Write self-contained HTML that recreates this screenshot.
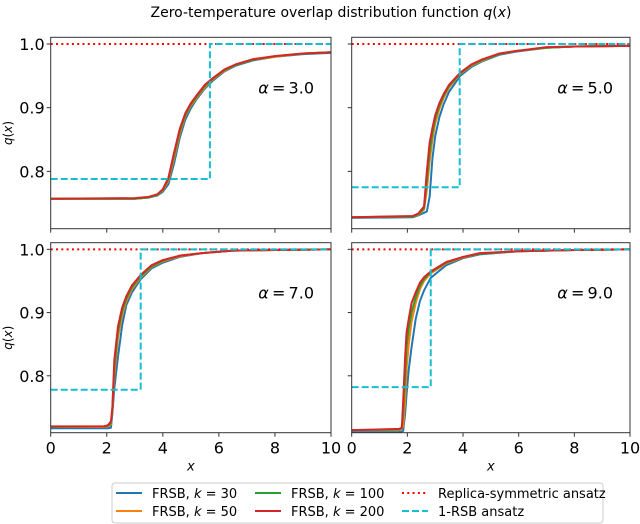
<!DOCTYPE html>
<html><head><meta charset="utf-8"><style>
html,body{margin:0;padding:0;background:#fff;}
svg{display:block;font-family:"DejaVu Sans","Liberation Sans",sans-serif;}
</style></head><body>
<svg id="fig" width="640" height="524" viewBox="0 0 640 524" xmlns="http://www.w3.org/2000/svg">
<text x="331" y="17" font-size="14" text-anchor="middle">Zero-temperature overlap distribution function <tspan font-style="italic">q</tspan>(<tspan font-style="italic">x</tspan>)</text>
<g id="panels"></g>
<g>
<rect x="112" y="483" width="491" height="40" rx="3" fill="#fff" stroke="#ccc"/>
<g><line x1="116" y1="493" x2="142" y2="493" stroke="#1f77b4" stroke-width="2"/><text x="152" y="498" font-size="13">FRSB, <tspan font-style="italic">k</tspan> = 30</text></g>
<g><line x1="116" y1="511" x2="142" y2="511" stroke="#ff7f0e" stroke-width="2"/><text x="152" y="516" font-size="13">FRSB, <tspan font-style="italic">k</tspan> = 50</text></g>
<g><line x1="255" y1="493" x2="281" y2="493" stroke="#2ca02c" stroke-width="2"/><text x="291" y="498" font-size="13">FRSB, <tspan font-style="italic">k</tspan> = 100</text></g>
<g><line x1="255" y1="511" x2="281" y2="511" stroke="#d62728" stroke-width="2"/><text x="291" y="516" font-size="13">FRSB, <tspan font-style="italic">k</tspan> = 200</text></g>
<g><line x1="402" y1="493" x2="428" y2="493" stroke="#ff0000" stroke-width="2" stroke-dasharray="2,3.3"/><text x="438" y="498" font-size="13">Replica-symmetric ansatz</text></g>
<g><line x1="402" y1="511" x2="428" y2="511" stroke="#17becf" stroke-width="2" stroke-dasharray="7,3"/><text x="438" y="516" font-size="13">1-RSB ansatz</text></g>
</g>
</svg>
<script>
// ---- data ----
const alphas = [3.0, 5.0, 7.0, 9.0];
const xTicks = [0, 2, 4, 6, 8, 10];
const yTicks = [0.8, 0.9, 1.0];
const yTickLabels = ["0.8", "0.9", "1.0"];
const rsbJump = [5.68, 3.88, 3.21, 2.84];
const rsbLow = [0.788, 0.775, 0.778, 0.782];
const rsLevel = [1.0, 1.0, 1.0, 1.0];
// alpha = 3
const x_a3 = [0, 3.0, 3.5, 3.8, 4.0, 4.2, 4.4, 4.6, 4.8, 5.0, 5.2, 5.5, 5.8, 6.2, 6.6, 7.2, 8, 9, 10];
const q_a3_k30 = [0.757, 0.757, 0.759, 0.762, 0.768, 0.780, 0.812, 0.852, 0.881, 0.899, 0.913, 0.930, 0.943, 0.957, 0.966, 0.974, 0.980, 0.984, 0.986];
const q_a3_k50 = [0.757, 0.757, 0.759, 0.763, 0.770, 0.785, 0.820, 0.858, 0.886, 0.903, 0.915, 0.932, 0.945, 0.958, 0.967, 0.975, 0.980, 0.985, 0.987];
const q_a3_k100 = [0.757, 0.757, 0.759, 0.763, 0.771, 0.788, 0.825, 0.862, 0.888, 0.905, 0.917, 0.934, 0.946, 0.959, 0.967, 0.975, 0.981, 0.985, 0.987];
const q_a3_k200 = [0.757, 0.758, 0.760, 0.764, 0.772, 0.790, 0.829, 0.866, 0.891, 0.907, 0.919, 0.936, 0.947, 0.960, 0.968, 0.976, 0.981, 0.985, 0.987];
// alpha = 5
const x_a5 = [0, 2.2, 2.4, 2.6, 2.7, 2.8, 2.9, 3.0, 3.15, 3.3, 3.5, 3.9, 4.3, 4.7, 5.3, 5.9, 7, 8, 10];
const q_a5_k30 = [0.727, 0.728, 0.731, 0.735, 0.737, 0.760, 0.820, 0.855, 0.885, 0.905, 0.925, 0.950, 0.964, 0.973, 0.983, 0.988, 0.994, 0.996, 0.997];
const q_a5_k50 = [0.728, 0.729, 0.732, 0.740, 0.770, 0.815, 0.850, 0.875, 0.898, 0.915, 0.932, 0.953, 0.966, 0.974, 0.984, 0.989, 0.994, 0.996, 0.997];
const q_a5_k100 = [0.728, 0.729, 0.733, 0.742, 0.785, 0.830, 0.860, 0.882, 0.903, 0.918, 0.934, 0.954, 0.967, 0.975, 0.984, 0.989, 0.994, 0.996, 0.997];
const q_a5_k200 = [0.728, 0.730, 0.734, 0.745, 0.800, 0.845, 0.868, 0.888, 0.907, 0.921, 0.936, 0.955, 0.968, 0.976, 0.985, 0.989, 0.995, 0.996, 0.997];
// alpha = 7
const x_a7 = [0, 1.9, 2.05, 2.15, 2.2, 2.27, 2.4, 2.55, 2.7, 2.9, 3.2, 3.6, 4.0, 4.6, 5.4, 6.5, 8, 10];
const q_a7_k30 = [0.717, 0.717, 0.717, 0.718, 0.740, 0.780, 0.830, 0.880, 0.912, 0.932, 0.952, 0.970, 0.979, 0.988, 0.994, 0.998, 0.999, 1.0];
const q_a7_k50 = [0.719, 0.719, 0.720, 0.723, 0.745, 0.800, 0.860, 0.896, 0.918, 0.937, 0.955, 0.972, 0.981, 0.989, 0.994, 0.998, 0.999, 1.0];
const q_a7_k100 = [0.719, 0.720, 0.721, 0.725, 0.748, 0.812, 0.870, 0.902, 0.922, 0.940, 0.957, 0.973, 0.982, 0.990, 0.994, 0.998, 0.999, 1.0];
const q_a7_k200 = [0.720, 0.720, 0.722, 0.728, 0.750, 0.825, 0.878, 0.908, 0.926, 0.943, 0.959, 0.975, 0.983, 0.990, 0.994, 0.998, 0.999, 1.0];
// alpha = 9
const x_a9 = [0, 1.7, 1.8, 1.85, 1.92, 1.97, 2.05, 2.15, 2.3, 2.45, 2.6, 2.84, 3.4, 4.0, 4.6, 6, 8, 10];
const q_a9_k30 = [0.711, 0.711, 0.712, 0.713, 0.740, 0.770, 0.810, 0.845, 0.890, 0.918, 0.935, 0.955, 0.975, 0.986, 0.992, 0.997, 0.999, 1.0];
const q_a9_k50 = [0.714, 0.714, 0.716, 0.720, 0.760, 0.810, 0.850, 0.885, 0.915, 0.937, 0.950, 0.962, 0.978, 0.987, 0.993, 0.997, 0.999, 1.0];
const q_a9_k100 = [0.714, 0.715, 0.717, 0.740, 0.800, 0.845, 0.875, 0.900, 0.924, 0.942, 0.953, 0.964, 0.979, 0.988, 0.993, 0.997, 0.999, 1.0];
const q_a9_k200 = [0.714, 0.716, 0.718, 0.760, 0.830, 0.868, 0.890, 0.915, 0.932, 0.947, 0.956, 0.965, 0.980, 0.988, 0.994, 0.997, 0.999, 1.0];

const xsets = [x_a3, x_a5, x_a7, x_a9];
const qsets = [
  [q_a3_k30, q_a3_k50, q_a3_k100, q_a3_k200],
  [q_a5_k30, q_a5_k50, q_a5_k100, q_a5_k200],
  [q_a7_k30, q_a7_k50, q_a7_k100, q_a7_k200],
  [q_a9_k30, q_a9_k50, q_a9_k100, q_a9_k200]
];
const kNames = ["k30", "k50", "k100", "k200"];
const kColors = ["#1f77b4", "#ff7f0e", "#2ca02c", "#d62728"];

// ---- layout ----
const NS = "http://www.w3.org/2000/svg";
const boxes = [
  {l: 50.7, t: 37.3, w: 280.3, h: 191.4},
  {l: 351.7, t: 37.3, w: 278.3, h: 191.4},
  {l: 50.7, t: 242.7, w: 280.3, h: 190.0},
  {l: 351.7, t: 242.7, w: 278.3, h: 190.0}
];
const yMin = 0.710, yMax = 1.0105, xMin = 0, xMax = 10;
const root = document.getElementById("panels");
function mk(tag, attrs, parent) {
  const e = document.createElementNS(NS, tag);
  for (const k in attrs) e.setAttribute(k, attrs[k]);
  parent.appendChild(e);
  return e;
}
boxes.forEach((b, i) => {
  const sx = v => b.l + (v - xMin) / (xMax - xMin) * b.w;
  const sy = v => b.t + (yMax - v) / (yMax - yMin) * b.h;
  const g = mk("g", {}, root);
  
  
  const cid = "clip" + i;
  const cp = mk("clipPath", {id: cid}, g);
  mk("rect", {x: b.l, y: b.t, width: b.w, height: b.h}, cp);
  const plot = mk("g", {"clip-path": "url(#" + cid + ")"}, g);
  qsets[i].forEach((qs, k) => {
    const pts = xsets[i].map((x, j) => sx(x).toFixed(2) + "," + sy(qs[j]).toFixed(2)).join(" ");
    const pl = mk("polyline", {points: pts, fill: "none", stroke: kColors[k], "stroke-width": 2, "stroke-linejoin": "round"}, plot);
    
    
  });
  const rs = mk("line", {x1: sx(0), y1: sy(rsLevel[i]), x2: sx(10), y2: sy(rsLevel[i]), stroke: "#ff0000", "stroke-width": 2, "stroke-dasharray": "2,3.3"}, plot);
  
  
  const st = mk("polyline", {points: [sx(0), sy(rsbLow[i]), sx(rsbJump[i]), sy(rsbLow[i]), sx(rsbJump[i]), sy(1.0), sx(10), sy(1.0)].join(" "), fill: "none", stroke: "#17becf", "stroke-width": 2, "stroke-dasharray": "7,3"}, plot);
  
  
  const fr = mk("rect", {x: b.l, y: b.t, width: b.w, height: b.h, fill: "none", stroke: "#333", "stroke-width": 1}, g);
  
  
  xTicks.forEach(v => {
    mk("line", {x1: sx(v), y1: b.t + b.h, x2: sx(v), y2: b.t + b.h + 4, stroke: "#333"}, g);
    if (i >= 2) {
      const t = mk("text", {x: sx(v), y: b.t + b.h + 21, "font-size": 16, "text-anchor": "middle"}, g);
      t.textContent = v;
      
      
    }
  });
  yTicks.forEach((v, j) => {
    mk("line", {x1: b.l - 4, y1: sy(v), x2: b.l, y2: sy(v), stroke: "#333"}, g);
    if (i % 2 === 0) {
      const t = mk("text", {x: b.l - 6, y: sy(v) + 6, "font-size": 16, "text-anchor": "end"}, g);
      t.textContent = yTickLabels[j];
      
      
    }
  });
  if (i % 2 === 0) {
    const yl = mk("text", {x: 0, y: 0, "font-size": 12, "text-anchor": "middle", transform: "translate(12," + (b.t + b.h / 2) + ") rotate(-90)"}, g);
    yl.innerHTML = '<tspan font-style="italic">q</tspan>(<tspan font-style="italic">x</tspan>)';
    
    
  }
  if (i >= 2) {
    const xl = mk("text", {x: b.l + b.w / 2, y: b.t + b.h + 38, "font-size": 13, "text-anchor": "middle", "font-style": "italic"}, g);
    xl.textContent = "x";
    
    
  }
  const al = mk("text", {x: b.l + b.w - 17, y: b.t + 56, "font-size": 16, "text-anchor": "end"}, g);
  al.innerHTML = '<tspan font-style="italic">α</tspan>\u2009=\u2009' + alphas[i].toFixed(1);
  
  
});
</script>
</body></html>
